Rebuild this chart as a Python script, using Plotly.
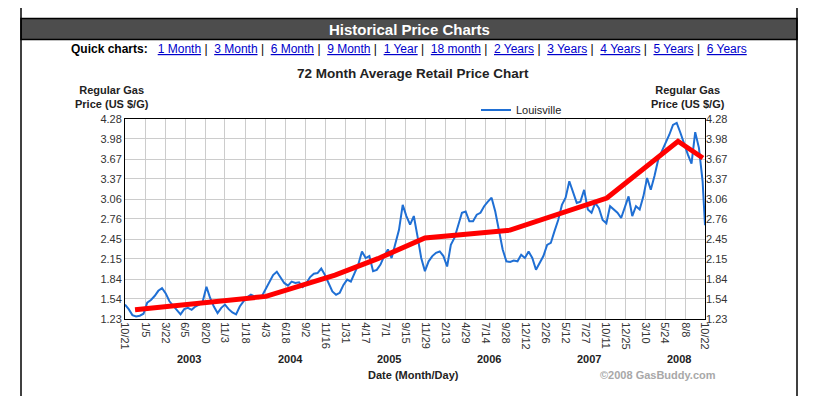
import pandas as pd
import plotly.graph_objects as go

# ---------------- data ----------------
START_DATE = "2002-10-21"
END_DATE = "2008-10-22"

# Louisville regular gas price, read roughly every two weeks from 2002-10-21
LOUISVILLE_BIWEEKLY = [
    1.45, 1.38, 1.29, 1.27, 1.28, 1.31, 1.48, 1.52, 1.58, 1.66,
    1.70, 1.62, 1.50, 1.43, 1.36, 1.30, 1.38, 1.40, 1.37, 1.42,
    1.45, 1.50, 1.72, 1.55, 1.42, 1.32, 1.40, 1.45, 1.38, 1.33,
    1.30, 1.42, 1.50, 1.56, 1.60, 1.58, 1.55, 1.58, 1.68, 1.78,
    1.90, 1.95, 1.86, 1.78, 1.74, 1.80, 1.78, 1.79, 1.72, 1.78,
    1.87, 1.92, 1.93, 2.00, 1.90, 1.78, 1.65, 1.60, 1.63, 1.75,
    1.83, 1.80, 1.93, 2.06, 2.26, 2.16, 2.19, 1.96, 1.98, 2.06,
    2.19, 2.29, 2.16, 2.39, 2.59, 2.97, 2.80, 2.67, 2.80, 2.49,
    2.16, 1.96, 2.11, 2.19, 2.24, 2.26, 2.19, 2.03, 2.36, 2.47,
    2.67, 2.85, 2.87, 2.72, 2.72, 2.82, 2.85, 2.95, 3.02, 3.08,
    2.87, 2.59, 2.29, 2.11, 2.10, 2.12, 2.11, 2.21, 2.16, 2.26,
    2.16, 1.98, 2.08, 2.19, 2.36, 2.39, 2.57, 2.74, 2.97, 3.08,
    3.33, 3.15, 3.00, 3.02, 3.20, 2.90, 2.85, 3.00, 2.92, 2.74,
    2.69, 2.95, 2.90, 2.85, 2.77, 2.95, 3.10, 2.80, 2.95, 2.90,
    3.10, 3.38, 3.20, 3.41, 3.66, 3.79, 3.91, 4.04, 4.19, 4.22,
    4.07, 3.89, 3.74, 3.60, 4.08, 3.84, 3.33,
]
LOUISVILLE_LAST_DATE = "2008-10-22"
LOUISVILLE_LAST_VALUE = 2.66

# 72 month average (red) line vertices
AVG_DATES = ["2002-11-28", "2004-04-06", "2004-12-23", "2005-06-03", "2005-11-28",
             "2006-10-16", "2007-10-17", "2008-07-12", "2008-10-14"]
AVG_VALUES = [1.37, 1.575, 1.90, 2.15, 2.465, 2.585, 3.075, 3.94, 3.685]

X_TICK_DATES = ["2002-10-21", "2003-01-05", "2003-03-22", "2003-06-05", "2003-08-20",
                "2003-11-03", "2004-01-18", "2004-04-03", "2004-06-18", "2004-09-02",
                "2004-11-16", "2005-01-31", "2005-04-17", "2005-07-01", "2005-09-15",
                "2005-11-29", "2006-02-13", "2006-04-29", "2006-07-14", "2006-09-28",
                "2006-12-12", "2007-02-26", "2007-05-12", "2007-07-27", "2007-10-11",
                "2007-12-25", "2008-03-10", "2008-05-24", "2008-08-08", "2008-10-22"]
X_TICK_LABELS = ["10/21", "1/5", "3/22", "6/5", "8/20", "11/3", "1/18", "4/3", "6/18", "9/2",
                 "11/16", "1/31", "4/17", "7/1", "9/15", "11/29", "2/13", "4/29", "7/14", "9/28",
                 "12/12", "2/26", "5/12", "7/27", "10/11", "12/25", "3/10", "5/24", "8/8", "10/22"]
Y_TICK_LABELS = ["1.23", "1.54", "1.84", "2.15", "2.45", "2.76", "3.06", "3.37", "3.67", "3.98", "4.28"]
YEAR_LABELS = ["2003", "2004", "2005", "2006", "2007", "2008"]
QUICK_LINKS = ["1 Month", "3 Month", "6 Month", "9 Month", "1 Year", "18 month",
               "2 Years", "3 Years", "4 Years", "5 Years", "6 Years"]

# ---------------- layout geometry ----------------
# the page body has an 8px margin, so the figure is 8px smaller and all
# target screen coordinates are shifted by OFF
OFF = 8
SCREEN_W, SCREEN_H = 822, 396
W, H = SCREEN_W - OFF, SCREEN_H - OFF
PLOT_X0, PLOT_X1, PLOT_Y0, PLOT_Y1 = 125, 705, 119, 319   # screen pixels
L = PLOT_X0 - OFF
T = PLOT_Y0 - OFF
R = W - (PLOT_X1 - OFF)
B = H - (PLOT_Y1 - OFF)
PW, PH = PLOT_X1 - PLOT_X0, PLOT_Y1 - PLOT_Y0


def px(x):
    return (x - PLOT_X0) / PW


def py(y):
    return (PLOT_Y1 - y) / PH


FONT = "Liberation Sans, Arial, sans-serif"
BLUE = "#1f6fd4"

dates = list(pd.date_range(START_DATE, periods=len(LOUISVILLE_BIWEEKLY), freq="14D"))
dates.append(pd.Timestamp(LOUISVILLE_LAST_DATE))
values = LOUISVILLE_BIWEEKLY + [LOUISVILLE_LAST_VALUE]

fig = go.Figure()
fig.add_trace(go.Scatter(x=dates, y=values, mode="lines", name="Louisville",
                         line=dict(color=BLUE, width=2)))
fig.add_trace(go.Scatter(x=AVG_DATES, y=AVG_VALUES, mode="lines", name="Average",
                         line=dict(color="#ff0000", width=5), showlegend=False, yaxis="y2"))

yvals = [float(t) for t in Y_TICK_LABELS]
yrange = [yvals[0], yvals[-1]]

fig.update_layout(
    width=W, height=H,
    margin=dict(l=L, r=R, t=T, b=B, pad=0),
    paper_bgcolor="white", plot_bgcolor="white",
    font=dict(family=FONT, size=11, color="#222"),
    showlegend=True,
    legend=dict(x=px(476), y=py(110), xanchor="left", yanchor="middle",
                orientation="h", font=dict(size=11, color="#222"),
                bgcolor="rgba(0,0,0,0)", itemwidth=30),
    xaxis=dict(type="date", range=[START_DATE, END_DATE],
               tickmode="array", tickvals=X_TICK_DATES, ticktext=X_TICK_LABELS,
               tickangle=90, tickfont=dict(size=11, color="#333"),
               showgrid=True, gridcolor="#cccccc", gridwidth=1,
               showline=True, linecolor="black", linewidth=1, mirror=True,
               ticks="", zeroline=False),
    yaxis=dict(range=yrange, tickmode="array", tickvals=yvals, ticktext=Y_TICK_LABELS,
               tickfont=dict(size=11, color="#333"),
               showgrid=True, gridcolor="#cccccc", gridwidth=1,
               showline=True, linecolor="black", linewidth=1, mirror=True,
               ticks="", zeroline=False),
    yaxis2=dict(range=yrange, overlaying="y", side="right", tickmode="array",
                tickvals=yvals, ticktext=Y_TICK_LABELS,
                tickfont=dict(size=11, color="#333"),
                showgrid=False, zeroline=False, ticks="", showline=False),
)

shapes = [
    # page borders
    dict(type="line", xref="paper", yref="paper", x0=px(21), x1=px(21), y0=py(0), y1=py(SCREEN_H),
         line=dict(color="black", width=1.5)),
    dict(type="line", xref="paper", yref="paper", x0=px(797), x1=px(797), y0=py(0), y1=py(SCREEN_H),
         line=dict(color="black", width=1.5)),
    # header bar
    dict(type="rect", xref="paper", yref="paper", x0=px(21), x1=px(797), y0=py(18.5), y1=py(39.5),
         fillcolor="#4d4d4d", line=dict(color="black", width=1.5), layer="below"),
]
fig.update_layout(shapes=shapes)

ann = []
ann.append(dict(text="<b>Historical Price Charts</b>", x=px(409), y=py(29), xref="paper", yref="paper",
                showarrow=False, font=dict(size=15, color="white", family=FONT),
                xanchor="center", yanchor="middle"))

link_parts = ['<span style="color:#0000cc"><u>%s</u></span>' % s for s in QUICK_LINKS]
quick = "<b>Quick charts:</b>   " + " |  ".join(link_parts)
ann.append(dict(text=quick, x=px(409), y=py(49), xref="paper", yref="paper", showarrow=False,
                font=dict(size=12, color="black", family=FONT), xanchor="center", yanchor="middle"))

ann.append(dict(text="<b>72 Month Average Retail Price Chart</b>", x=px(413), y=py(73),
                xref="paper", yref="paper", showarrow=False,
                font=dict(size=13.5, color="#222", family=FONT), xanchor="center", yanchor="middle"))

for cx in (112, 688):
    ann.append(dict(text="<b>Regular Gas<br>Price (US $/G)</b>", x=px(cx), y=py(97),
                    xref="paper", yref="paper", showarrow=False,
                    font=dict(size=11, color="#222", family=FONT),
                    xanchor="center", yanchor="middle", align="center"))

year_px = [189, 290, 389, 489, 589, 679]
for yl, xp in zip(YEAR_LABELS, year_px):
    ann.append(dict(text="<b>%s</b>" % yl, x=px(xp), y=py(359), xref="paper", yref="paper",
                    showarrow=False, font=dict(size=11, color="#222", family=FONT),
                    xanchor="center", yanchor="middle"))

ann.append(dict(text="<b>Date (Month/Day)</b>", x=px(413), y=py(375), xref="paper", yref="paper",
                showarrow=False, font=dict(size=11, color="#222", family=FONT),
                xanchor="center", yanchor="middle"))
ann.append(dict(text="<b>©2008 GasBuddy.com</b>", x=px(658), y=py(375), xref="paper", yref="paper",
                showarrow=False, font=dict(size=11, color="#a8a8a8", family=FONT),
                xanchor="center", yanchor="middle"))

fig.update_layout(annotations=ann)

fig.write_html("out.html")
